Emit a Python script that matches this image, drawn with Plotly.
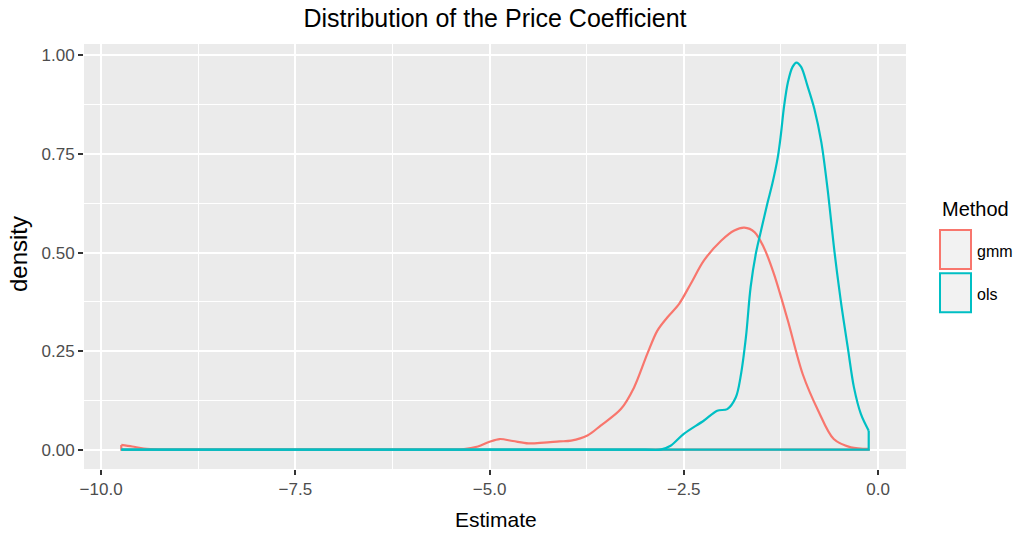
import plotly.graph_objects as go

# ---- data ----
gmm_x = [-9.74, -9.6, -9.45, -9.25, -9.0, -8.0, -7.0, -6.0, -5.6, -5.35, -5.15, -5.0, -4.87,
         -4.7, -4.5, -4.3, -4.1, -3.95, -3.74, -3.57, -3.31, -3.14, -2.97, -2.84, -2.71,
         -2.56, -2.41, -2.24, -2.02, -1.85, -1.72, -1.59, -1.47, -1.34, -1.16, -0.97,
         -0.77, -0.57, -0.35, -0.12]
gmm_y = [0.012, 0.008, 0.003, 0.0005, 0.0, 0.0, 0.0, 0.0, 0.0, 0.001, 0.008, 0.02, 0.027,
         0.022, 0.016, 0.018, 0.021, 0.023, 0.036, 0.061, 0.103, 0.158, 0.243, 0.302, 0.336,
         0.37, 0.421, 0.48, 0.53, 0.556, 0.563, 0.552, 0.513, 0.446, 0.327, 0.192,
         0.099, 0.027, 0.006, 0.002]

ols_x = [-9.74, -8.0, -6.0, -4.0, -3.0, -2.80, -2.67, -2.50, -2.24, -2.07, -1.94, -1.83,
         -1.77, -1.70, -1.64, -1.57, -1.49, -1.42, -1.36, -1.29, -1.25, -1.21, -1.16,
         -1.10, -1.05, -0.99, -0.91, -0.82, -0.73, -0.65, -0.56, -0.48, -0.39, -0.31,
         -0.22, -0.12]
ols_y = [0.0, 0.0, 0.0, 0.0, 0.0, 0.0, 0.01, 0.04, 0.074, 0.099, 0.103, 0.133,
         0.184, 0.286, 0.412, 0.50, 0.569, 0.628, 0.675, 0.742, 0.80, 0.87, 0.932,
         0.971, 0.982, 0.971, 0.924, 0.865, 0.78, 0.662, 0.501, 0.378, 0.26, 0.158,
         0.09, 0.048]

methods = ["gmm", "ols"]
colors = ["#F8766D", "#00BFC4"]

x_ticks = [-10.0, -7.5, -5.0, -2.5, 0.0]
y_ticks = [0.0, 0.25, 0.5, 0.75, 1.0]

FONT = "Liberation Sans, Arial, Helvetica, sans-serif"

fig = go.Figure()
for name, xs, ys, col in [("gmm", gmm_x, gmm_y, colors[0]), ("ols", ols_x, ols_y, colors[1])]:
    fig.add_trace(go.Scatter(x=xs, y=ys, mode="lines", name=name,
                             line=dict(color=col, width=2.2, shape="spline", smoothing=0.9),
                             showlegend=False, hoverinfo="skip"))
    # closing of the density polygon (ends and baseline)
    fig.add_trace(go.Scatter(x=[xs[-1], xs[-1], xs[0], xs[0]],
                             y=[ys[-1], 0, 0, ys[0]], mode="lines",
                             line=dict(color=col, width=2.2), showlegend=False,
                             hoverinfo="skip"))

L, R, T, B = 84, 115, 44, 70
W, H = 1021, 539
pw, ph = W - L - R, H - T - B

def px(xp):
    return (xp - L) / pw

def py(yp):
    return (H - B - yp) / ph

# manual ggplot-style legend
shapes = []
annotations = []
for i, (m, c) in enumerate(zip(methods, colors)):
    top = 230 + i * 43.3
    shapes.append(dict(type="rect", xref="paper", yref="paper",
                       x0=px(940), x1=px(971), y0=py(top + 39), y1=py(top),
                       fillcolor="#F2F2F2", line=dict(color=c, width=2)))
    annotations.append(dict(text=m, xref="paper", yref="paper", x=px(975), y=py(top + 21),
                            xanchor="left", yanchor="middle", showarrow=False,
                            font=dict(family=FONT, size=16, color="black")))
annotations.append(dict(text="Method", xref="paper", yref="paper", x=px(940), y=py(209),
                        xanchor="left", yanchor="middle", showarrow=False,
                        font=dict(family=FONT, size=20, color="black")))
annotations.append(dict(text="density", xref="paper", yref="paper", x=px(18), y=py(254),
                        xanchor="center", yanchor="middle", showarrow=False, textangle=-90,
                        font=dict(family=FONT, size=24, color="black")))
annotations.append(dict(text="Estimate", xref="paper", yref="paper", x=px(496), y=py(519),
                        xanchor="center", yanchor="middle", showarrow=False,
                        font=dict(family=FONT, size=21, color="black")))

fig.update_layout(
    width=W, height=H,
    margin=dict(l=L, r=R, t=T, b=B, autoexpand=False),
    paper_bgcolor="white",
    plot_bgcolor="#EBEBEB",
    title=dict(text="Distribution of the Price Coefficient", x=495 / W, xanchor="center",
               xref="container", yref="container",
               y=1 - 18 / H, yanchor="middle", automargin=False,
               font=dict(family=FONT, size=25, color="black")),
    font=dict(family=FONT),
    shapes=shapes,
    annotations=annotations,
    showlegend=False,
)
fig.update_xaxes(range=[-10.22, 0.36], tickvals=x_ticks, tickformat=".1f",
                 showgrid=True, gridcolor="white", gridwidth=2,
                 minor=dict(dtick=1.25, tick0=-10, showgrid=True, gridcolor="white", gridwidth=1),
                 zeroline=False, ticks="outside", ticklen=5, tickwidth=1.5, tickcolor="#333333",
                 tickfont=dict(family=FONT, size=17, color="#4D4D4D"),
                 automargin=False, showline=False)
fig.update_yaxes(range=[-0.049, 1.029], tickvals=y_ticks, tickformat=".2f",
                 showgrid=True, gridcolor="white", gridwidth=2,
                 minor=dict(dtick=0.125, tick0=0, showgrid=True, gridcolor="white", gridwidth=1),
                 zeroline=False, ticks="outside", ticklen=5, tickwidth=1.5, tickcolor="#333333",
                 tickfont=dict(family=FONT, size=17, color="#4D4D4D"),
                 automargin=False, showline=False)

fig.write_html("out.html", config={"displayModeBar": False},
               post_script="document.body.style.margin='0';")
